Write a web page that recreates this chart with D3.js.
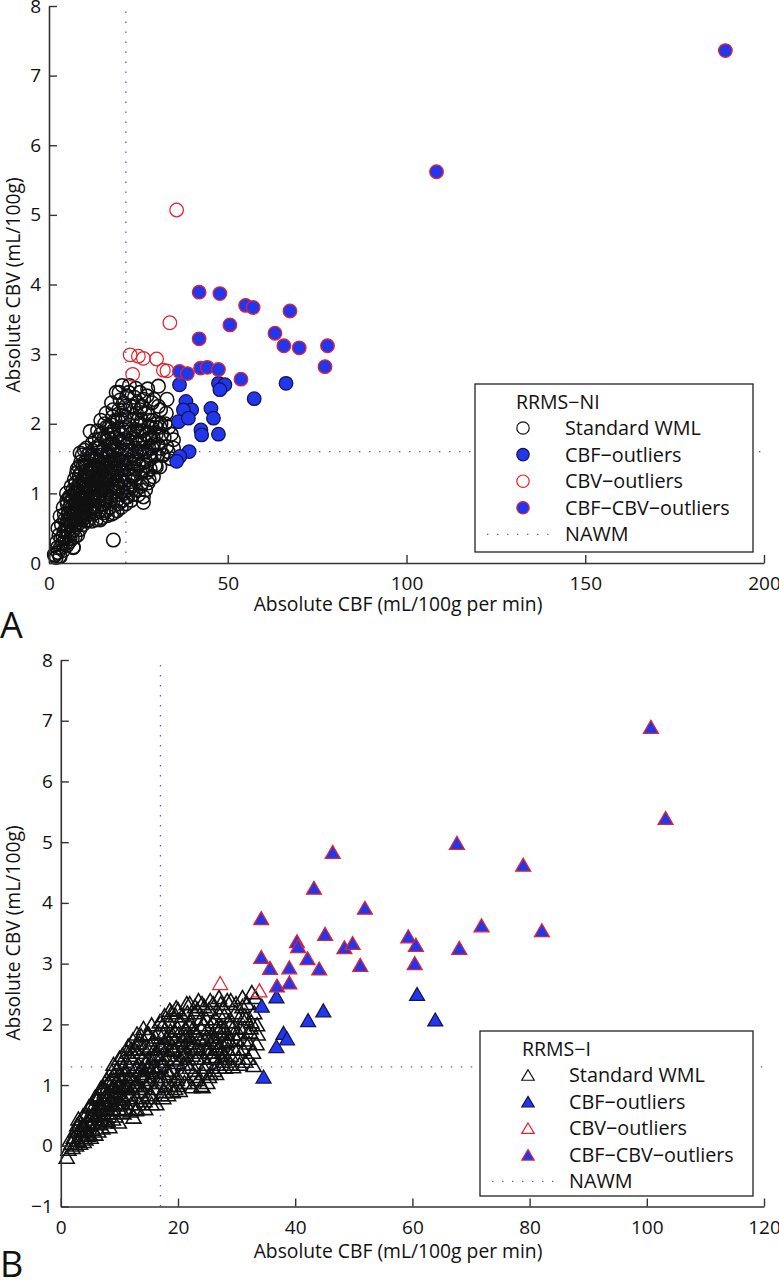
<!DOCTYPE html>
<html>
<head>
<meta charset="utf-8">
<script src="https://cdn.jsdelivr.net/npm/d3@7.9.0/dist/d3.min.js"></script>
<style>
  body { margin: 0; background: #fff; }
  svg text { font-family: "Open Sans", "Liberation Sans", sans-serif; fill: #111; }
</style>
</head>
<body>
<svg id="chart" width="779" height="1280"></svg>
<script>
// ---- panel A (RRMS-NI): [CBF, CBV] pairs
const topStandard = [
  [1.5,0.12],[2.0,0.08],[2.5,0.15],[3.0,0.10],[3.2,0.22],[2.2,0.30],[3.8,0.28],[4.0,0.18],[4.5,0.35],[5.0,0.25],
  [4.2,0.45],[5.5,0.40],[6.0,0.55],[5.2,0.60],[6.5,0.35],[6.8,0.22],[7.0,0.48],[6.2,0.70],[7.5,0.62],[5.8,0.80],
  [7.2,0.85],[8.0,0.55],[8.2,0.75],[6.6,0.95],[8.5,0.92],[7.8,1.05],[9.0,0.65],[9.2,0.85],[9.5,1.02],[8.8,1.15],
  [10.0,0.78],[10.2,0.95],[10.5,1.12],[9.8,1.25],[11.0,0.70],[11.2,0.88],[11.5,1.05],[11.0,1.30],[12.0,0.82],[12.2,1.00],
  [12.5,1.18],[11.8,1.42],[13.0,0.90],[13.2,1.10],[13.5,1.30],[12.8,1.55],[14.0,0.75],[14.2,0.98],[14.5,1.20],[14.0,1.45],
  [13.8,1.68],[15.0,0.85],[15.2,1.08],[15.5,1.35],[15.0,1.60],[16.0,0.95],[16.2,1.20],[16.5,1.45],[16.0,1.75],[17.0,0.80],
  [17.2,1.05],[17.5,1.30],[17.0,1.55],[17.5,1.85],[18.0,1.00],[18.2,1.25],[18.5,1.50],[18.0,1.72],[18.5,2.05],[19.0,0.90],
  [19.2,1.15],[19.5,1.40],[19.0,1.65],[19.5,1.92],[20.0,1.10],[20.2,1.35],[20.5,1.60],[20.0,1.85],[19.9,2.34],[21.0,1.00],
  [21.2,1.25],[21.5,1.50],[21.0,1.78],[21.5,2.10],[22.0,0.95],[22.2,1.20],[22.5,1.45],[22.0,1.70],[22.5,1.98],[22.8,2.25],
  [23.0,1.10],[23.5,1.35],[23.2,1.62],[23.6,2.25],[23.5,1.88],[24.3,2.51],[24.0,1.20],[24.5,1.50],[24.2,1.78],[24.8,2.05],
  [25.0,0.98],[25.5,1.30],[25.2,1.60],[25.8,1.90],[25.5,2.20],[26.4,0.87],[26.4,0.95],[26.0,1.15],[26.5,1.45],[26.8,1.75],
  [26.5,2.35],[27.0,1.05],[27.5,1.30],[27.2,1.60],[27.8,1.95],[27.5,2.15],[28.0,1.20],[28.5,1.50],[28.2,1.80],[28.8,2.30],
  [29.2,1.24],[29.5,1.55],[29.0,2.05],[30.0,1.38],[30.5,1.70],[30.2,2.00],[30.6,2.54],[31.0,1.38],[31.5,1.85],[31.2,2.20],
  [32.0,1.55],[32.9,1.67],[32.5,2.00],[33.0,2.35],[34.0,1.50],[34.8,1.77],[34.8,1.65],[33.5,1.95],[11.5,1.89],[18.0,0.33],
  [6.8,0.23],[1.7,0.11],[3.1,0.09],[4.8,0.55],[5.5,0.72],[6.0,0.62],[6.5,0.80],[7.0,0.72],[7.5,0.90],[8.0,1.00],
  [8.5,0.70],[9.0,1.10],[9.5,0.80],[10.0,1.20],[10.5,0.85],[11.0,1.10],[11.5,0.95],[12.0,1.30],[12.5,0.95],[13.0,1.40],
  [13.5,1.05],[14.0,1.25],[14.5,1.55],[15.0,1.15],[15.5,1.00],[16.0,1.35],[16.5,1.60],[17.0,1.20],[17.5,1.45],[18.0,1.60],
  [18.5,1.35],[19.0,1.50],[15.5,1.80],[14.5,1.85],[13.0,1.65],[12.0,1.55],[10.5,1.40],[9.0,1.30],[7.5,1.15],[8.5,1.25],
  [10.0,1.45],[16.8,1.95],[17.8,2.10],[19.5,2.20],[20.8,2.30],[21.8,2.40],[22.5,2.55],[20.5,2.05],[19.0,0.75],[17.5,0.70],
  [16.0,0.75],[14.8,0.65],[13.2,0.62],[12.0,0.60],[10.5,0.60],[9.5,0.55],[8.0,0.40],[23.0,0.90],[21.5,0.85],[20.2,0.80],
  [4.9,1.00],[3.1,0.67],[7.7,1.29],[8.7,1.58],[10.5,1.65],[12.9,1.77],[14.5,2.05],[16.0,2.15],[17.5,2.30],[18.8,2.45],
  [20.5,2.55],[4.0,0.80],[6.2,1.10],[2.5,0.50],
  [2.8,0.40],[3.5,0.55],[3.9,0.38],[2.4,0.22],[3.4,0.35],[4.4,0.62],[4.6,0.28],
  [5.1,0.85],[5.4,0.52],[5.7,0.95],[5.9,0.35],[6.1,0.88],[6.4,0.58],[5.3,0.70],[6.7,1.05],
  [7.1,1.20],[7.3,0.38],[7.6,0.78],[7.9,1.35],[8.1,0.88],[8.3,1.12],[8.6,0.48],[8.9,1.45],[7.4,1.02],[8.4,1.38],
  [9.1,0.95],[9.3,1.55],[9.4,0.72],[9.7,1.18],[9.9,1.62],[10.1,0.66],[10.3,1.32],[10.6,1.02],[10.8,1.55],[9.6,1.40],
  [11.1,0.62],[11.3,1.20],[11.4,1.58],[11.7,0.78],[11.9,1.12],[12.1,1.72],[12.3,0.70],[12.6,1.38],[12.8,1.08],[11.6,1.35],
  [13.1,1.22],[13.3,0.78],[13.4,1.52],[13.7,0.95],[13.9,1.35],[14.1,1.78],[14.3,0.62],[14.6,1.10],[14.8,1.42],[13.6,1.90],
  [15.1,0.72],[15.3,1.25],[15.4,1.50],[15.7,0.90],[15.9,1.15],[16.1,1.95],[16.3,0.68],[16.6,1.30],[16.8,1.70],[15.6,2.00],
  [17.1,0.95],[17.3,1.40],[17.4,1.70],[17.7,1.10],[17.9,2.20],[18.1,0.72],[18.3,1.38],[18.6,1.80],[18.8,1.10],[17.6,1.98],
  [19.1,1.30],[19.3,2.05],[19.4,0.85],[19.7,1.55],[19.9,1.75],[20.1,1.25],[20.3,2.12],[20.6,0.90],[20.8,1.45],[19.6,2.45],
  [21.1,1.15],[21.3,1.95],[21.4,2.25],[21.7,1.62],[21.9,1.05],[22.1,1.35],[22.3,2.45],[22.6,1.75],[22.8,1.08],[21.6,0.95],
  [23.1,1.50],[23.3,2.05],[23.4,0.98],[23.7,1.25],[23.9,2.38],[24.1,1.65],[24.3,1.05],[24.6,1.90],[24.8,2.30],[23.8,1.42],
  [25.1,1.40],[25.3,1.75],[25.4,2.45],[25.7,1.10],[25.9,2.05],[26.1,1.30],[26.3,1.90],[26.6,1.60],[26.8,2.15],[25.6,2.00],
  [27.1,1.40],[27.3,1.85],[27.4,2.40],[27.7,1.15],[27.9,1.65],[28.1,2.05],[28.3,1.35],[28.6,1.95],[28.8,1.65],[27.6,2.50],
  [29.1,1.80],[29.3,2.35],[29.7,1.40],[29.9,1.95],[30.3,1.55],[30.6,2.25],[30.9,1.65],[31.3,2.00],[31.7,1.55],[32.2,1.80],
  [32.8,2.15],[33.3,1.60],[34.2,1.85],
  [4.3,0.70],[4.7,0.48],[5.6,0.30],[5.0,0.45],[6.3,0.45],[6.9,0.60],[7.4,0.55],[7.8,0.70],[8.2,0.62],[8.6,0.85],
  [9.0,0.78],[9.3,0.62],[9.7,0.92],[10.1,1.08],[10.4,0.72],[10.8,1.22],[11.2,0.78],[11.6,1.08],[12.0,0.92],[12.4,1.25],
  [12.8,0.72],[13.2,1.48],[13.6,1.18],[14.0,0.88],[14.4,1.35],[14.8,1.05],[15.2,1.45],[15.6,1.22],[16.0,1.05],[16.4,1.58],
  [16.8,1.28],[17.2,0.90],[17.6,1.62],[18.0,1.12],[18.4,1.68],[18.8,1.30],[19.2,1.02],[19.6,1.78],[20.0,1.48],[20.4,1.18],
  [20.8,1.72],[21.2,1.40],[21.6,1.88],[22.0,1.55],[22.4,1.12],[22.8,1.85],[23.2,1.25],[23.6,1.55],[24.0,1.92],[24.4,1.35],
  [25.0,1.70],[26.0,1.65],[27.0,1.85],[28.0,1.55],[29.0,1.70],[30.0,1.85],[31.0,1.95],[24.5,2.15],[26.0,2.25],[21.0,2.20],
  [18.0,1.90],[16.5,1.85],[14.0,1.65],[11.0,1.50],[9.5,1.20],[7.0,1.00],[6.0,0.95],[5.0,0.90]
];
const topCbf = [
  [36.5,2.56],[47.4,2.58],[49.2,2.56],[47.8,2.49],[66.3,2.58],[57.4,2.36],[38.3,2.32],[39.9,2.20],[37.6,2.20],[36.2,2.03],
  [39.0,2.08],[45.3,2.22],[46.0,2.08],[42.5,1.91],[42.7,1.84],[47.4,1.85],[39.2,1.60],[36.6,1.53],[35.7,1.46]
];
const topCbv = [
  [35.7,5.07],[33.8,3.45],[22.7,2.99],[25.0,2.97],[26.4,2.94],[30.1,2.93],[23.4,2.71],[32.0,2.77],[33.0,2.76]
];
const topBoth = [
  [42.0,3.89],[47.8,3.87],[55.0,3.70],[57.1,3.67],[67.4,3.62],[50.6,3.42],[42.0,3.22],[63.2,3.30],[65.7,3.12],[70.0,3.09],
  [77.9,3.12],[77.2,2.82],[36.5,2.75],[38.7,2.72],[42.4,2.80],[44.3,2.81],[47.4,2.78],[53.7,2.64],[108.4,5.62],[189.2,7.36]
];
const topNawmCbf = 21.5;
const topNawmCbv = 1.6;
const topXTicks = [0, 50, 100, 150, 200];
const topYTicks = [0, 1, 2, 3, 4, 5, 6, 7, 8];

// ---- panel B (RRMS-I)
const bottomStandard = [
  [1.0,-0.18],[1.3,-0.05],[1.8,0.05],[2.2,0.15],[2.0,-0.02],[2.8,0.10],[3.0,0.25],[3.3,0.05],[3.6,0.18],[4.0,0.30],
  [4.2,0.12],[4.5,0.40],[4.8,0.22],[5.0,0.35],[5.3,0.50],[5.5,0.28],[5.8,0.45],[6.0,0.60],[6.2,0.38],[6.5,0.52],
  [6.7,0.37],[6.8,0.70],[7.0,0.45],[7.2,0.62],[7.5,0.80],[7.6,0.50],[7.9,0.68],[8.0,0.90],[8.2,0.55],[8.5,0.75],
  [8.7,1.23],[8.8,0.98],[9.0,0.62],[9.2,0.82],[9.5,1.05],[9.6,0.68],[9.9,0.88],[10.0,1.15],[10.2,0.72],[10.5,0.95],
  [10.6,1.30],[10.8,0.78],[11.0,1.02],[11.2,1.40],[11.5,0.85],[11.6,1.15],[11.8,1.50],[12.0,0.70],[12.2,0.95],[12.4,0.48],
  [12.5,1.25],[12.6,1.60],[12.9,0.80],[13.0,1.05],[13.2,1.35],[13.4,1.70],[13.6,0.90],[13.8,1.15],[14.0,1.45],[14.1,1.94],
  [14.3,0.75],[14.5,1.00],[14.7,1.28],[14.9,1.60],[15.2,0.85],[15.4,1.10],[15.6,1.40],[15.8,1.75],[16.0,0.95],[16.2,1.22],
  [16.4,1.52],[16.6,1.88],[16.8,1.05],[17.0,1.32],[17.2,1.65],[17.4,2.00],[17.6,0.90],[17.8,1.15],[18.0,1.45],[18.2,1.78],
  [18.6,2.24],[18.8,1.00],[19.0,1.25],[19.2,1.58],[19.4,1.90],[19.6,2.15],[19.8,1.10],[20.0,1.38],[20.3,1.70],[20.5,2.05],
  [20.8,1.20],[21.0,1.50],[21.3,1.82],[21.6,2.20],[21.8,1.05],[22.0,1.30],[22.3,1.62],[22.6,1.95],[22.9,2.30],[23.0,1.15],
  [23.3,1.45],[23.5,2.40],[23.6,1.78],[23.9,2.10],[24.0,1.00],[24.2,0.98],[24.4,1.30],[24.7,1.60],[25.0,1.92],[25.3,2.25],
  [25.5,1.20],[25.8,1.48],[26.1,1.80],[26.4,2.10],[26.8,1.35],[27.0,2.45],[27.1,1.65],[27.4,1.98],[27.8,2.28],[28.0,1.40],
  [28.3,1.72],[28.6,2.05],[29.0,1.50],[29.4,1.31],[29.5,1.85],[29.8,2.20],[30.2,1.60],[30.6,1.95],[31.0,2.30],[31.3,1.75],
  [31.6,2.10],[32.0,1.45],[32.3,1.88],[32.6,2.53],[32.9,1.33],[33.0,2.20],[33.4,1.69],[33.5,2.00],[31.5,1.40],[5.5,0.65],
  [6.3,0.78],[7.2,0.95],[8.0,0.42],[9.0,1.10],[10.0,0.60],[11.0,1.25],[12.0,1.10],[13.0,0.62],[14.0,1.20],[15.0,1.30],
  [16.0,1.60],[17.0,1.15],[18.0,1.25],[19.0,1.65],[20.0,1.00],[21.0,1.65],[22.0,1.80],[15.5,0.70],[17.5,0.80],[19.5,0.95],
  [21.5,1.35],[23.0,1.60],[24.5,1.45],[26.0,1.55],[27.5,1.70],[28.5,1.60],[30.0,1.75],[18.5,2.05],[20.0,2.25],[22.0,2.35],
  [24.5,2.30],[26.0,2.35],[29.0,2.40],[31.0,2.45],[13.0,1.85],[11.5,1.65],[10.0,1.45],[9.0,1.35],[7.8,1.10],[6.8,0.95],
  [5.8,0.80],[4.8,0.65],[3.8,0.50],[2.8,0.35],[25.0,1.05],[26.5,1.20],[28.0,1.30],[30.5,1.35],
  [1.5,0.10],[2.5,0.25],[2.6,0.02],[3.2,0.40],[3.5,0.28],[3.9,0.08],[4.3,0.52],[4.6,0.18],
  [5.1,0.15],[5.2,0.68],[5.6,0.55],[5.9,0.20],[6.1,0.82],[6.4,0.25],[6.6,0.62],
  [7.1,0.30],[7.3,0.98],[7.7,0.40],[7.8,0.85],[8.1,1.05],[8.3,0.32],[8.6,0.90],[8.9,0.45],
  [9.1,1.18],[9.3,0.50],[9.4,0.92],[9.7,1.28],[9.9,0.40],[10.1,1.00],[10.3,1.38],[10.7,0.55],[10.9,1.18],
  [11.1,0.62],[11.3,1.55],[11.4,0.98],[11.7,1.30],[11.9,0.58],[12.1,1.45],[12.3,1.75],[12.7,1.00],[12.8,0.60],
  [13.1,1.55],[13.3,0.70],[13.5,1.25],[13.7,1.82],[13.9,0.95],[14.2,1.62],[14.4,0.62],[14.6,1.38],[14.8,1.85],
  [15.1,1.05],[15.3,1.65],[15.5,2.00],[15.7,0.80],[15.9,1.30],[16.1,1.80],[16.3,0.70],[16.5,1.10],[16.7,1.45],[16.9,2.05],
  [17.1,0.85],[17.3,1.50],[17.5,1.85],[17.7,2.15],[17.9,1.00],[18.1,1.62],[18.3,0.85],[18.5,1.20],[18.7,1.90],[18.9,2.20],
  [19.1,0.90],[19.3,1.42],[19.5,1.75],[19.7,2.28],[19.9,1.15],[20.1,1.85],[20.3,0.92],[20.5,1.55],[20.7,2.15],[20.9,1.35],
  [21.1,1.05],[21.3,1.95],[21.5,2.35],[21.7,1.45],[21.9,1.70],[22.1,2.05],[22.4,0.98],[22.5,1.50],[22.8,2.20],[22.9,1.25],
  [23.1,1.85],[23.3,2.25],[23.5,1.10],[23.7,1.55],[23.9,1.95],[24.1,2.35],[24.3,1.20],[24.6,1.75],[24.8,2.10],[24.9,1.35],
  [25.1,1.60],[25.3,1.15],[25.5,2.40],[25.7,1.70],[25.9,2.05],[26.2,1.25],[26.4,1.45],[26.6,1.95],[26.9,2.20],[26.7,1.60],
  [27.1,1.30],[27.3,2.35],[27.5,1.55],[27.7,1.85],[27.9,2.15],[28.1,1.50],[28.4,2.40],[28.7,1.75],[28.9,1.35],
  [29.2,2.05],[29.6,1.60],[29.9,2.35],[30.3,1.45],[30.7,2.15],[31.1,1.60],[31.4,1.95],[31.8,2.35],[32.1,1.70],[32.5,2.05],
  [32.8,1.55],[33.2,2.45],[33.6,1.85],
  [3.0,0.45],[3.7,0.35],[4.4,0.25],[4.9,0.50],[5.4,0.40],[6.0,0.50],[6.5,0.70],[7.0,0.60],[7.4,0.72],[7.9,0.55],
  [8.4,0.85],[8.9,0.70],[9.4,0.78],[9.8,1.00],[10.4,0.82],[10.9,0.95],[11.4,1.10],[11.9,0.85],[12.4,1.10],[12.9,1.30],
  [13.4,1.00],[13.9,1.30],[14.4,1.15],[14.9,1.45],[15.4,1.25],[15.9,1.50],[16.4,1.30],[16.9,1.65],[17.4,1.40],[17.9,1.70],
  [18.4,1.50],[18.9,1.80],[19.4,1.60],[19.9,1.95],[20.4,1.45],[20.9,1.75],[21.4,1.55],[21.9,2.00],[22.4,1.70],[22.9,1.90],
  [23.4,1.65],[23.9,1.75],[24.4,2.00],[24.9,1.80],[25.4,1.55],[25.9,1.85],[26.4,1.70],[26.9,1.90],[27.4,1.45],[27.9,1.95],
  [28.4,1.85],[29.4,1.95],[30.4,1.85],[31.4,2.15],[32.4,1.95],[12.0,1.60],[13.0,1.70],[15.0,1.85],[17.0,2.05],[10.5,1.50],
  [9.5,1.25],[8.5,1.10],[7.5,0.90],[6.5,0.85]
];
const bottomCbf = [
  [34.3,2.31],[36.8,2.46],[42.2,2.07],[44.8,2.23],[38.0,1.86],[38.6,1.77],[36.8,1.64],[34.6,1.14],[60.8,2.50],[63.9,2.08]
];
const bottomCbv = [[27.2,2.68],[33.9,2.56]];
const bottomBoth = [
  [46.4,4.84],[43.2,4.25],[51.9,3.92],[34.2,3.75],[45.1,3.49],[40.3,3.37],[40.5,3.29],[48.4,3.27],[49.8,3.34],[59.3,3.45],
  [60.6,3.31],[60.4,3.01],[34.2,3.11],[35.7,2.93],[39.0,2.94],[42.1,3.09],[44.1,2.92],[51.1,2.98],[36.9,2.64],[39.0,2.69],
  [100.7,6.90],[103.2,5.40],[67.6,4.99],[78.9,4.63],[71.8,3.63],[82.1,3.55],[68.0,3.26]
];
const bottomNawmCbf = 17.0;
const bottomNawmCbv = 1.3;
const bottomXTicks = [0, 20, 40, 60, 80, 100, 120];
const bottomYTicks = [-1, 0, 1, 2, 3, 4, 5, 6, 7, 8];

const legendLabels = ["Standard WML", "CBF\u2212outliers", "CBV\u2212outliers", "CBF\u2212CBV\u2212outliers", "NAWM"];

const BLUE = "#2236ee";
const RED = "#e5232d";
const NAWM_COLOR = "#5b61b5";

// marker styles for the four groups
const styles = [
  { fill: "none", stroke: "#111", width: 1.55 },
  { fill: BLUE, stroke: "#15154a", width: 1.25 },
  { fill: "none", stroke: RED, width: 1.25 },
  { fill: BLUE, stroke: RED, width: 1.25 }
];

const svg = d3.select("#chart");

function triangle(cx, cy, w, h) {
  return `M${cx},${cy - h / 2}L${cx + w / 2},${cy + h / 2}L${cx - w / 2},${cy + h / 2}Z`;
}

function drawMarkers(g, pts, style, shape, x, y) {
  if (shape === "circle") {
    g.selectAll(null).data(pts).join("circle")
      .attr("cx", d => x(d[0])).attr("cy", d => y(d[1])).attr("r", 6.8)
      .attr("fill", style.fill).attr("stroke", style.stroke).attr("stroke-width", style.width);
  } else {
    g.selectAll(null).data(pts).join("path")
      .attr("d", d => triangle(x(d[0]), y(d[1]), 15, 13))
      .attr("fill", style.fill).attr("stroke", style.stroke).attr("stroke-width", style.width)
      .attr("stroke-linejoin", "miter");
  }
}

function drawPanel(p) {
  const x = d3.scaleLinear().domain(p.xDomain).range(p.xRange);
  const y = d3.scaleLinear().domain(p.yDomain).range(p.yRange);
  const g = svg.append("g");

  // scatter groups
  p.groups.forEach((pts, i) => drawMarkers(g.append("g"), pts, styles[i], p.shape, x, y));

  // NAWM reference lines
  g.append("line")
    .attr("x1", x(p.nawmCbf)).attr("x2", x(p.nawmCbf))
    .attr("y1", y(p.yDomain[0])).attr("y2", y(p.yDomain[1]))
    .attr("stroke", NAWM_COLOR).attr("stroke-width", 1.3).attr("stroke-dasharray", "1.4 8.6");
  g.append("line")
    .attr("x1", x(p.xDomain[0])).attr("x2", x(p.xDomain[1]))
    .attr("y1", y(p.nawmCbv)).attr("y2", y(p.nawmCbv))
    .attr("stroke", NAWM_COLOR).attr("stroke-width", 1.3).attr("stroke-dasharray", "1.4 8.6");

  // axes (ticks inward, MATLAB style)
  const xAxis = g.append("g").attr("transform", `translate(0,${p.yRange[0]})`)
    .call(d3.axisBottom(x).tickValues(p.xTicks).tickSize(-8).tickSizeOuter(0).tickPadding(14));
  const yAxis = g.append("g").attr("transform", `translate(${p.xRange[0]},0)`)
    .call(d3.axisLeft(y).tickValues(p.yTicks).tickSize(-8).tickSizeOuter(0).tickPadding(8)
      .tickFormat(d => d < 0 ? "\u2212" + Math.abs(d) : d));
  [xAxis, yAxis].forEach(a => {
    a.select(".domain").attr("stroke", "#333").attr("stroke-width", 1.6);
    a.selectAll(".tick line").attr("stroke", "#333").attr("stroke-width", 1.4);
    a.selectAll(".tick text").attr("font-size", 19).attr("fill", "#111")
      .style("font-family", "'Open Sans', 'Liberation Sans', sans-serif");
  });

  // axis titles
  g.append("text").attr("x", p.xLabelPos[0]).attr("y", p.xLabelPos[1])
    .attr("text-anchor", "middle").attr("font-size", 19.3).text("Absolute CBF (mL/100g per min)");
  g.append("text")
    .attr("transform", `translate(${p.yLabelPos[0]},${p.yLabelPos[1]}) rotate(-90)`)
    .attr("text-anchor", "middle").attr("font-size", 19.3).text("Absolute CBV (mL/100g)");

  // panel letter
  g.append("text").attr("x", p.letterPos[0]).attr("y", p.letterPos[1])
    .attr("font-size", 36).text(p.letter);

  // legend
  const L = p.legend;
  const lg = g.append("g").attr("transform", `translate(${L.x},${L.y})`);
  lg.append("rect").attr("width", L.w).attr("height", L.h)
    .attr("fill", "#fff").attr("stroke", "#222").attr("stroke-width", 1.3);
  lg.append("text").attr("x", L.titleX).attr("y", 24.5).attr("font-size", 19.5).text(L.title);
  const rowH = 26.6;
  legendLabels.forEach((lab, i) => {
    const cy = 44 + i * rowH;
    if (i < 4) {
      const st = styles[i];
      if (p.shape === "circle") {
        lg.append("circle").attr("cx", L.markX).attr("cy", cy).attr("r", 6.2)
          .attr("fill", st.fill).attr("stroke", st.stroke).attr("stroke-width", 1.2);
      } else {
        lg.append("path").attr("d", triangle(L.markX, cy, 12.5, 10.5))
          .attr("fill", st.fill).attr("stroke", st.stroke).attr("stroke-width", 1.2);
      }
    } else {
      lg.append("line").attr("x1", L.markX - 36).attr("x2", L.markX + 30)
        .attr("y1", cy).attr("y2", cy)
        .attr("stroke", NAWM_COLOR).attr("stroke-width", 1.3).attr("stroke-dasharray", "1.4 8.6");
    }
    lg.append("text").attr("x", L.textX).attr("y", cy + 7).attr("font-size", 19.8).text(lab);
  });
}

drawPanel({
  xDomain: [0, 200], xRange: [49, 764],
  yDomain: [0, 8], yRange: [563, 6],
  xTicks: topXTicks, yTicks: topYTicks,
  groups: [topStandard, topCbf, topCbv, topBoth],
  shape: "circle",
  nawmCbf: topNawmCbf, nawmCbv: topNawmCbv,
  xLabelPos: [398, 611], yLabelPos: [19.5, 285],
  letter: "A", letterPos: [0, 638],
  legend: { x: 475, y: 384, w: 278, h: 168, title: "RRMS\u2212NI", titleX: 41, markX: 48, textX: 90 }
});

drawPanel({
  xDomain: [0, 120], xRange: [60.8, 764],
  yDomain: [-1, 8], yRange: [1206.5, 660],
  xTicks: bottomXTicks, yTicks: bottomYTicks,
  groups: [bottomStandard, bottomCbf, bottomCbv, bottomBoth],
  shape: "triangle",
  nawmCbf: bottomNawmCbf, nawmCbv: bottomNawmCbv,
  xLabelPos: [398, 1258], yLabelPos: [19.5, 933],
  letter: "B", letterPos: [0, 1277],
  legend: { x: 480, y: 1031, w: 273, h: 165, title: "RRMS\u2212I", titleX: 42, markX: 48, textX: 89 }
});
</script>
</body>
</html>
